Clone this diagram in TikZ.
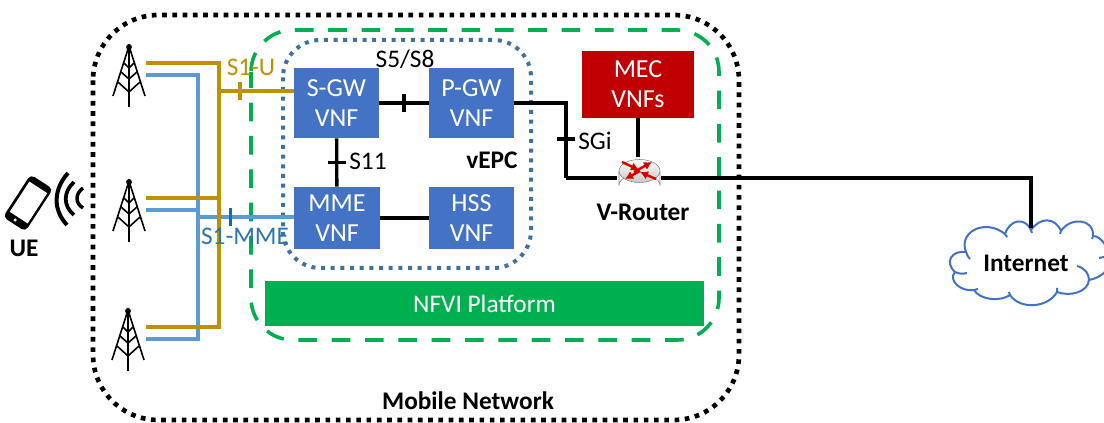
\documentclass[tikz,border=0pt]{standalone}
\usepackage{fontspec}
\setmainfont{Carlito}
\usepackage{xcolor}
\usepackage{tikz}
\usetikzlibrary{calc,positioning,arrows.meta}

\definecolor{vnfblue}{HTML}{4472C4}
\definecolor{epcblue}{HTML}{41719C}
\definecolor{nfvgreen}{HTML}{00B050}
\definecolor{mecred}{HTML}{C00000}
\definecolor{sugold}{HTML}{BF9000}
\definecolor{smmeblue}{HTML}{5B9BD5}
\definecolor{smmedark}{HTML}{0070C0}
\definecolor{smmetext}{HTML}{2E75B6}

\tikzset{
  vnf/.style={fill=vnfblue, text=white, align=center, minimum width=64pt, inner sep=0pt,
    font=\fontsize{19.5}{22.5}\selectfont},
  plain/.style={inner sep=0pt, font=\fontsize{19}{22}\selectfont},
  strong/.style={inner sep=0pt, font=\fontsize{19}{22}\selectfont\bfseries},
  link/.style={line width=2.5pt, black},
  sulink/.style={line width=3pt, sugold},
  smmelink/.style={line width=2.5pt, smmeblue},
  tickmark/.style={inner sep=0pt, minimum width=2.5pt, minimum height=13.5pt, fill=black},
  routerarrow/.style={-{Latex[length=6pt,width=6.5pt]}, red!85!black, line width=1.8pt},
  tower/.pic={
    \draw[line width=1.2pt] (-16,50) -- (0,0) -- (16,50) (0,0) -- (0,61);
    \draw[line width=1.2pt] (-5,17) -- (0,22) -- (5,17) (-8,26) -- (0,33) -- (8,26) (-11,36) -- (0,46) -- (11,36);
    \fill (0,1) circle (2.2pt);
  }
}

\begin{document}
\begin{tikzpicture}[x=0.75pt,y=-0.75pt]
\useasboundingbox (0,0) rectangle (1104,423);

%Mobile network and NFVI borders
\draw[line width=3.5pt, dash pattern=on 3.5pt off 4.2pt, rounded corners=49pt] (93,15) rectangle (739,420);
\draw[nfvgreen, line width=2.7pt, dash pattern=on 14pt off 11pt, dash phase=2pt, rounded corners=31.5pt] (251,30) rectangle (719,340);
\draw[epcblue, line width=3pt, dash pattern=on 3pt off 4.25pt, rounded corners=28pt] (283,40) rectangle (531,268);

%VNF boxes
\node[vnf, minimum height=52.5pt] (sgw) at (336.5,103) {S-GW\\VNF};
\node[vnf, minimum height=52.5pt] (pgw) at (471.5,103) {P-GW\\VNF};
\node[vnf, minimum height=46.5pt] (mme) at (337,218) {MME\\VNF};
\node[vnf, minimum height=46.5pt] (hss) at (471.5,218) {HSS\\VNF};
\node[vnf, fill=mecred, minimum width=84pt, minimum height=50pt] (mec) at (638,84.5) {MEC\\VNFs};
\node[fill=nfvgreen, text=white, minimum width=329pt, minimum height=34pt, inner sep=0pt,
  font=\fontsize{19}{22}\selectfont] (nfvi) at (484.5,303.5) {NFVI Platform};

%Towers
\pic at (129,46) {tower};
\pic at (129,181) {tower};
\pic at (128,310) {tower};

%S1 lines
\coordinate (sma) at (146,75);
\coordinate (smb) at (146,210);
\coordinate (smc) at (146,339);
\coordinate (smbus) at (198,217);
\coordinate (sua) at (146,63);
\coordinate (sub) at (146,198);
\coordinate (suc) at (146,327);
\coordinate (subus) at (219,91);
\draw[smmelink] (sma) -| (smbus);
\draw[smmelink] (smb) -| (smbus);
\draw[smmelink] (smc) -| (smbus);
\draw[smmelink] (smbus) -- (mme.west |- smbus)
 node[tickmark, fill=smmedark, pos=0.34] {};
\draw[sulink] (sua) -| (subus);
\draw[sulink] (sub) -| (subus);
\draw[sulink] (suc) -| (subus);
\draw[sulink] (subus) -- (sgw.west |- subus)
 node[tickmark, fill=sugold, pos=0.28] {};

%Router
\node[minimum width=32.5pt, minimum height=31.5pt, inner sep=0pt] (router) at (639,178) {};
\draw[gray, fill=white] (619,171) -- (619,185.5) arc (180:360:20.5 and 11.5) -- (660,171);
\draw[gray, top color=white, bottom color=black!22] (639.5,171) ellipse (20.5 and 11.5);
\draw[routerarrow] (634,172) -- (652,162);
\draw[routerarrow] (640,171) -- (625,179);
\draw[routerarrow] (622,162) -- (639,170);
\draw[routerarrow] (656,179) -- (640,172);

%Internet cloud
\coordinate (cloudtop) at (1031,228);
\draw[vnfblue, line width=1.5pt, fill=white]
 (966,252) .. controls (958,232) and (985,218) .. (1005,234)
 .. controls (1010,219) and (1025,217) .. (1031,230)
 .. controls (1040,217) and (1055,217) .. (1061,231)
 .. controls (1070,217) and (1094,218) .. (1093,236)
 .. controls (1102,236) and (1110,250) .. (1110,262)
 .. controls (1110,270) and (1100,278) .. (1089,280)
 .. controls (1088,292) and (1070,297) .. (1057,292)
 .. controls (1048,308) and (1020,310) .. (1010,295)
 .. controls (1000,302) and (980,300) .. (974,290)
 .. controls (960,292) and (948,280) .. (955,272)
 .. controls (944,262) and (952,250) .. (966,252) -- cycle;
\draw[vnfblue, line width=1.5pt]
 (966,252) .. controls (967,255) and (968,257) .. (970,259)
 (955,272) .. controls (959,274) and (963,274) .. (967,273)
 (1005,234) -- (1007,237) (1031,230) -- (1032,233) (1061,231) -- (1060,234) (1093,236) -- (1092,239)
 (1077,266) .. controls (1085,268) and (1089,274) .. (1089,280)
 (1057,292) -- (1057,288) (1010,295) -- (1009,292) (974,290) -- (978,289) (1104,257) -- (1099,258);

%Black links
\coordinate (sgibend) at (566,178);
\coordinate (netbend) at (1031,178);
\draw[link] (sgw) -- (pgw) node[tickmark, pos=0.5] {};
\draw[link] (sgw) -- (mme) node[tickmark, minimum height=2.5pt, minimum width=13.5pt, pos=0.5] {};
\draw[link] (mme) -- (hss);
\draw[link] (pgw.east) -| (sgibend)
 node[tickmark, minimum height=2.5pt, minimum width=13.5pt, pos=0.74] {};
\draw[link] (sgibend) -- (router.west);
\draw[link] (mec.south) -- (router.north -| mec.south);
\draw[link] (router.east) -- (netbend) -- (cloudtop);

%Labels
\node[plain, text=sugold] (sulabel) at (251,67) {S1-U};
\node[plain, text=smmetext] (smlabel) at (245,236) {S1-MME};
\node[plain] (s58label) at (405,59) {S5/S8};
\node[plain] (s11label) at (368,161) {S11};
\node[plain] (sgilabel) at (595,141) {SGi};
\node[strong] (epclabel) at (492,160) {vEPC};
\node[strong] (routerlabel) at (643,212) {V-Router};
\node[strong] (netlabel) at (1026,263) {Internet};
\node[strong] (mobilelabel) at (468,401) {Mobile Network};
\node[strong] (uelabel) at (24,248) {UE};

%UE phone
\node[fill=black, rounded corners=3.5pt, rotate=-33, minimum width=20pt, minimum height=38pt, inner sep=0pt] (phone) at (28,203) {};
\node[fill=white, rotate=-33, minimum width=16pt, minimum height=27pt, inner sep=0pt] (screen) at (28.5,202.5) {};
\fill[white] (phone.south) ++(1,-4.5) circle (1.3pt);
\draw[line width=3pt] (68,173) .. controls (53,190) and (53,210) .. (67,225);
\draw[line width=2.8pt] (74,182) .. controls (63,192) and (63,206) .. (74,215);
\draw[line width=2.6pt] (83,188) .. controls (75,194) and (75,203) .. (83,208);
\end{tikzpicture}
\end{document}
